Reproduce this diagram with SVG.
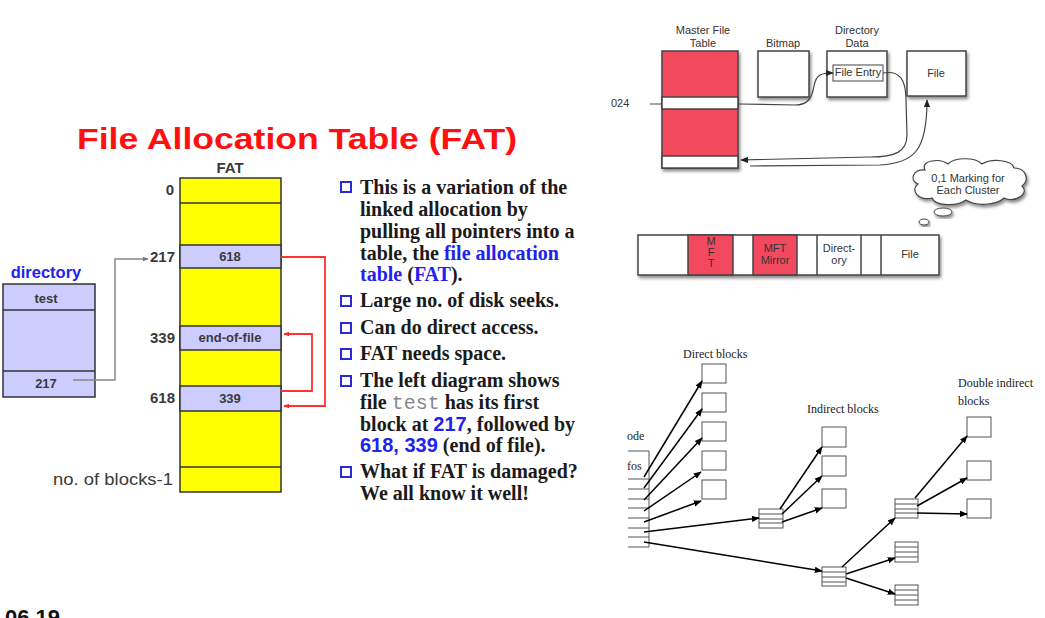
<svg xmlns="http://www.w3.org/2000/svg" width="1045" height="618" viewBox="0 0 1045 618">
<style>
.sans{font-family:"Liberation Sans",Arial,sans-serif}
.serif{font-family:"Liberation Serif","Times New Roman",serif}
.lbl{font-family:"Liberation Sans",Arial,sans-serif;font-weight:bold;font-size:15px;fill:#3a3a3a}
.cell{font-family:"Liberation Sans",Arial,sans-serif;font-weight:bold;font-size:13px;fill:#3a3a3a;text-anchor:middle}
.yel{fill:#ffff00;stroke:#333;stroke-width:1.5}
.lav{fill:#ccccff;stroke:#333;stroke-width:1.5}
.bul{font-family:"Liberation Serif","Times New Roman",serif;font-weight:bold;font-size:20px;fill:#1a1a1a}
.blue{fill:#2222ee}
.num{font-family:"Liberation Sans",Arial,sans-serif;fill:#2222ee}
.mono{font-family:"Liberation Mono","Courier New",monospace;font-weight:normal;fill:#888}
.sq{fill:none;stroke:#2a2add;stroke-width:2}
.nt{font-family:"Liberation Sans",Arial,sans-serif;font-size:11px;fill:#333;text-anchor:middle}
.nbox{fill:#fff;stroke:#444;stroke-width:1.5}
.red{fill:#f2485f;stroke:#444;stroke-width:1.5}
.ib{font-family:"Liberation Serif","Times New Roman",serif;font-size:12px;fill:#222}
.blk{fill:#fff;stroke:#555;stroke-width:1}
.ln{stroke:#555;stroke-width:1;fill:none}
</style>
<defs>
<marker id="ab" viewBox="0 0 10 10" refX="9" refY="5" markerWidth="8" markerHeight="8" markerUnits="userSpaceOnUse" orient="auto"><path d="M0,1 L10,5 L0,9 z" fill="#000"/></marker>
<marker id="ar" viewBox="0 0 10 10" refX="9" refY="5" markerWidth="6" markerHeight="6" markerUnits="userSpaceOnUse" orient="auto"><path d="M0,1 L10,5 L0,9 z" fill="#f22"/></marker>
<marker id="ag" viewBox="0 0 10 10" refX="9" refY="5" markerWidth="6" markerHeight="6" markerUnits="userSpaceOnUse" orient="auto"><path d="M0,1 L10,5 L0,9 z" fill="#777"/></marker>
<marker id="an" viewBox="0 0 10 10" refX="9" refY="5" markerWidth="8" markerHeight="8" markerUnits="userSpaceOnUse" orient="auto"><path d="M0,1 L10,5 L0,9 z" fill="#222"/></marker>
<filter id="sh" x="-20%" y="-20%" width="140%" height="150%"><feDropShadow dx="1.5" dy="2.5" stdDeviation="1.5" flood-color="#000" flood-opacity="0.45"/></filter>
</defs>
<rect width="1045" height="618" fill="#fff"/>

<!-- FAT slide -->
<text x="77" y="149" class="sans" font-weight="bold" font-size="29" fill="#ff1010" textLength="440" lengthAdjust="spacingAndGlyphs">File Allocation Table (FAT)</text>

<g id="fat-table">
<text x="230" y="173" class="lbl" text-anchor="middle" font-size="16">FAT</text>
<rect x="180" y="178" width="101" height="314" class="yel"/>
<line x1="180" y1="203" x2="281" y2="203" stroke="#333" stroke-width="1.5"/>
<rect x="180" y="245" width="101" height="23" class="lav"/>
<rect x="180" y="326" width="101" height="24" class="lav"/>
<rect x="180" y="386" width="101" height="25" class="lav"/>
<line x1="180" y1="467" x2="281" y2="467" stroke="#333" stroke-width="1.5"/>
<text x="230" y="261" class="cell">618</text>
<text x="230" y="342" class="cell">end-of-file</text>
<text x="230" y="403" class="cell">339</text>
<text x="174" y="195" class="lbl" text-anchor="end">0</text>
<text x="175" y="262" class="lbl" text-anchor="end">217</text>
<text x="175" y="343" class="lbl" text-anchor="end">339</text>
<text x="175" y="403" class="lbl" text-anchor="end">618</text>
<text x="53" y="485" class="sans" font-size="17" fill="#3a3a3a" textLength="120" lengthAdjust="spacingAndGlyphs">no. of blocks-1</text>
</g>

<g id="directory">
<text x="46" y="278" class="sans" font-weight="bold" font-size="16.5" fill="#2222ee" text-anchor="middle">directory</text>
<rect x="3" y="284" width="92" height="113" class="lav"/>
<line x1="3" y1="310" x2="95" y2="310" stroke="#333" stroke-width="1.5"/>
<line x1="3" y1="371" x2="95" y2="371" stroke="#333" stroke-width="1.5"/>
<text x="46" y="303" class="cell" font-size="14">test</text>
<text x="46" y="388" class="cell" font-size="14">217</text>
</g>

<g id="bullets">
<rect x="341" y="182" width="10" height="10" class="sq"/>
<rect x="341" y="296" width="10" height="10" class="sq"/>
<rect x="341" y="323" width="10" height="10" class="sq"/>
<rect x="341" y="349" width="10" height="10" class="sq"/>
<rect x="341" y="376" width="10" height="10" class="sq"/>
<rect x="341" y="467" width="10" height="10" class="sq"/>
<text class="bul" x="360" y="194">This is a variation of the</text>
<text class="bul" x="360" y="216">linked allocation by</text>
<text class="bul" x="360" y="238">pulling all pointers into a</text>
<text class="bul" x="360" y="260">table, the <tspan class="blue">file allocation</tspan></text>
<text class="bul" x="360" y="281"><tspan class="blue">table </tspan>(<tspan class="blue">FAT</tspan>).</text>
<text class="bul" x="360" y="307">Large no. of disk seeks.</text>
<text class="bul" x="360" y="334">Can do direct access.</text>
<text class="bul" x="360" y="360">FAT needs space.</text>
<text class="bul" x="360" y="387">The left diagram shows</text>
<text class="bul" x="360" y="409">file <tspan class="mono">test</tspan> has its first</text>
<text class="bul" x="360" y="431">block at <tspan class="num">217</tspan>, followed by</text>
<text class="bul" x="360" y="452"><tspan class="num">618, 339</tspan> (end of file).</text>
<text class="bul" x="360" y="478">What if FAT is damaged?</text>
<text class="bul" x="360" y="500">We all know it well!</text>
</g>

<text x="5" y="625" class="sans" font-weight="bold" font-size="22" fill="#111">06.19</text>

<!-- NTFS -->
<g id="mft">
<text x="703" y="34" class="nt">Master File</text>
<text x="703" y="47" class="nt">Table</text>
<g filter="url(#sh)">
<rect x="662" y="51" width="76" height="117" class="red"/>
<rect x="662" y="97" width="76" height="12" class="nbox"/>
<rect x="662" y="156" width="76" height="12" class="nbox"/>
</g>
<text x="611" y="107" class="sans" font-size="11" fill="#333">024</text>
<line x1="650" y1="104" x2="662" y2="104" stroke="#444" stroke-width="1"/>
</g>
<g id="bitmap">
<text x="783" y="47" class="nt">Bitmap</text>
<rect x="758" y="51" width="51" height="46" class="nbox" filter="url(#sh)"/>
</g>
<g id="dirdata">
<text x="857" y="34" class="nt">Directory</text>
<text x="857" y="47" class="nt">Data</text>
<rect x="827" y="51" width="60" height="46" class="nbox" filter="url(#sh)"/>
<rect x="833" y="65" width="50" height="16" fill="#fff" stroke="#444" stroke-width="1"/>
<text x="858" y="76" class="nt" font-size="8">File Entry</text>
</g>
<g id="filebox">
<rect x="907" y="51" width="59" height="45" class="nbox" filter="url(#sh)"/>
<text x="936" y="77" class="nt">File</text>
</g>
<g id="cloud">
<path d="M925,170 C920,160 940,158 948,164 C955,157 975,157 982,164 C992,158 1012,160 1014,168 C1026,168 1030,180 1022,186 C1030,194 1015,203 1004,198 C996,206 975,206 966,200 C956,207 935,206 932,198 C918,201 910,190 918,184 C909,180 913,169 925,170 z" fill="#fff" stroke="#444" stroke-width="1.2" filter="url(#sh)"/>
<ellipse cx="943" cy="212" rx="9" ry="4" fill="#fff" stroke="#444" stroke-width="1" filter="url(#sh)"/>
<ellipse cx="924" cy="222" rx="5" ry="3" fill="#fff" stroke="#444" stroke-width="1" filter="url(#sh)"/>
<text x="968" y="182" class="nt" font-size="10">0,1 Marking for</text>
<text x="968" y="194" class="nt" font-size="10">Each Cluster</text>
</g>
<g id="diskbar">
<g filter="url(#sh)">
<rect x="638" y="235" width="301" height="40" class="nbox"/>
<rect x="688" y="235" width="45" height="40" class="red"/>
<rect x="753" y="235" width="44" height="40" class="red"/>
</g>
<line x1="817" y1="235" x2="817" y2="275" stroke="#444" stroke-width="1.5"/>
<line x1="861" y1="235" x2="861" y2="275" stroke="#444" stroke-width="1.5"/>
<line x1="881" y1="235" x2="881" y2="275" stroke="#444" stroke-width="1.5"/>
<text x="711" y="245" class="nt" font-size="10">M</text>
<text x="711" y="256" class="nt" font-size="10">F</text>
<text x="711" y="267" class="nt" font-size="10">T</text>
<text x="775" y="252" class="nt" font-size="10">MFT</text>
<text x="775" y="264" class="nt" font-size="10">Mirror</text>
<text x="839" y="252" class="nt" font-size="10">Direct-</text>
<text x="839" y="264" class="nt" font-size="10">ory</text>
<text x="910" y="258" class="nt" font-size="10">File</text>
</g>

<!-- inode diagram -->
<g id="inode">
<text x="627" y="440" class="ib">ode</text>
<text x="627" y="470" class="ib">fos</text>
<path d="M628,451 H649 V547 H628" class="ln"/>
<path d="M628,479 H649 M628,489 H649 M628,499 H649 M628,508 H649 M628,518 H649 M628,528 H649 M628,537 H649" class="ln"/>
</g>
<g id="direct-blocks">
<text x="683" y="358" class="ib">Direct blocks</text>
<rect x="702" y="364" width="24" height="19" class="blk"/>
<rect x="702" y="393" width="24" height="19" class="blk"/>
<rect x="702" y="422" width="24" height="19" class="blk"/>
<rect x="702" y="451" width="24" height="19" class="blk"/>
<rect x="702" y="480" width="24" height="19" class="blk"/>
</g>
<g id="single-indirect">
<rect x="759" y="509" width="24" height="19" class="blk"/>
<path d="M759,514 H783 M759,519 H783 M759,523 H783" class="ln"/>
</g>
<g id="indirect-blocks">
<text x="807" y="413" class="ib">Indirect blocks</text>
<rect x="822" y="427" width="24" height="20" class="blk"/>
<rect x="822" y="456" width="24" height="20" class="blk"/>
<rect x="822" y="489" width="24" height="19" class="blk"/>
</g>
<g id="double-indirect">
<rect x="822" y="567" width="24" height="19" class="blk"/>
<path d="M822,572 H846 M822,577 H846 M822,582 H846" class="ln"/>
<rect x="895" y="499" width="23" height="19" class="blk"/>
<path d="M895,504 H918 M895,509 H918 M895,513 H918" class="ln"/>
<rect x="895" y="542" width="23" height="20" class="blk"/>
<path d="M895,547 H918 M895,552 H918 M895,557 H918" class="ln"/>
<rect x="895" y="585" width="23" height="20" class="blk"/>
<path d="M895,590 H918 M895,595 H918 M895,600 H918" class="ln"/>
</g>
<g id="double-indirect-blocks">
<text x="958" y="387" class="ib">Double indirect</text>
<text x="958" y="405" class="ib">blocks</text>
<rect x="967" y="417" width="24" height="20" class="blk"/>
<rect x="967" y="461" width="24" height="19" class="blk"/>
<rect x="967" y="499" width="24" height="19" class="blk"/>
</g>

<g id="connectors" fill="none">
<path d="M73,380 H115 V259 H148" stroke="#888" stroke-width="1.5" marker-end="url(#ag)"/>
<path d="M281,257 H325 V406 H284" stroke="#f33" stroke-width="1.8" marker-end="url(#ar)"/>
<path d="M281,391 H312 V334 H284" stroke="#f33" stroke-width="1.8" marker-end="url(#ar)"/>
<path d="M738,104 L795,105 C808,105 812,98 814,86 C816,74 822,73 833,73" stroke="#444" stroke-width="1.2" marker-end="url(#an)"/>
<path d="M883,73 C900,70 906,80 906,100 L907,135 C907,152 895,157 870,157 L741,160" stroke="#444" stroke-width="1.2" marker-end="url(#an)"/>
<path d="M750,166 L880,165 C915,163 927,150 927,100" stroke="#444" stroke-width="1.2" marker-end="url(#an)"/>
<g stroke="#000" stroke-width="1.5">
<path d="M644,477 L702,381" marker-end="url(#ab)"/>
<path d="M644,488 L702,409" marker-end="url(#ab)"/>
<path d="M644,500 L702,438" marker-end="url(#ab)"/>
<path d="M644,511 L701,472" marker-end="url(#ab)"/>
<path d="M644,522 L701,501" marker-end="url(#ab)"/>
<path d="M644,532 L759,518" marker-end="url(#ab)"/>
<path d="M644,542 L822,571" marker-end="url(#ab)"/>
<path d="M780,509 L822,447" marker-end="url(#ab)"/>
<path d="M782,514 L822,476" marker-end="url(#ab)"/>
<path d="M782,522 L822,508" marker-end="url(#ab)"/>
<path d="M842,567 L895,518" marker-end="url(#ab)"/>
<path d="M846,574 L895,558" marker-end="url(#ab)"/>
<path d="M846,578 L895,594" marker-end="url(#ab)"/>
<path d="M915,498 L967,436" marker-end="url(#ab)"/>
<path d="M917,506 L967,478" marker-end="url(#ab)"/>
<path d="M917,513 L967,514" marker-end="url(#ab)"/>
</g>
</g>
</svg>
